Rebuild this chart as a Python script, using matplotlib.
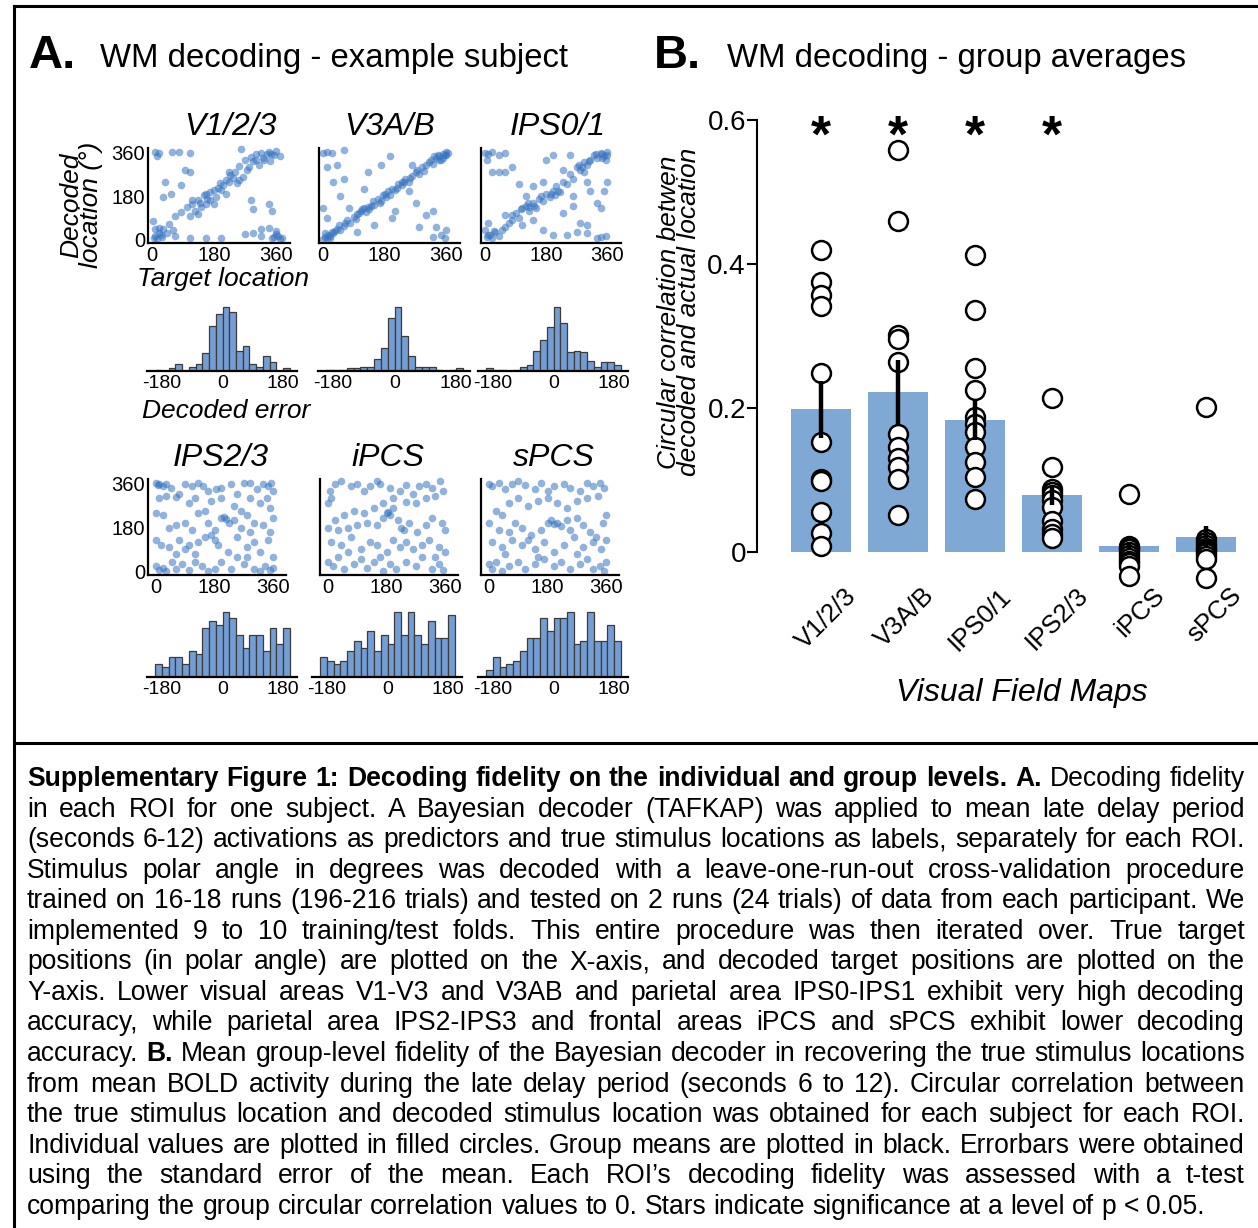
import numpy as np
import matplotlib
matplotlib.use('Agg')
import matplotlib.pyplot as plt
from matplotlib.transforms import ScaledTranslation

plt.rcParams['font.family'] = ['Liberation Sans', 'DejaVu Sans']

# ---------------- data: panel A, scatter (target, decoded) ----------------
v123_pts = [(9, 365), (20, 360), (14, 345), (57, 363), (79, 363), (111, 360), (258, 374), (301, 357),
            (315, 360), (332, 353), (346, 357), (360, 367), (371, 346), (287, 343), (321, 339), (269, 332),
            (252, 304), (241, 282), (227, 268), (213, 247), (196, 233), (179, 205), (167, 198), (151, 184),
            (134, 162), (117, 148), (100, 134), (83, 113), (66, 99), (49, 64), (32, 42), (20, 28), (9, 14),
            (224, 240), (201, 205), (185, 177), (168, 162), (156, 148), (179, 148), (142, 134), (124, 120),
            (111, 99), (252, 247), (264, 261), (275, 290), (292, 325), (309, 311), (326, 332), (343, 325),
            (37, 240), (54, 190), (32, 177), (83, 226), (111, 282), (117, 162), (94, 290), (134, 106),
            (156, 190), (224, 282), (247, 233), (287, 162), (292, 127), (338, 148), (349, 120), (338, 49),
            (360, 35), (366, 14), (377, 7), (349, 7), (315, 14), (292, 28), (269, 21), (201, 7), (156, 7),
            (111, 7), (66, 14), (9, 42), (3, 78), (20, 49), (43, 28), (315, 42), (360, 21), (5, 5),
            (15, 0), (30, 10), (190, 215), (205, 225), (215, 190), (235, 255), (160, 170), (140, 150),
            (300, 330), (280, 300), (355, 350), (340, 365), (370, 0), (355, 10), (25, 20), (60, 40)]

v3ab_pts = [(5, 10), (10, 5), (15, 20), (20, 15), (25, 30), (30, 25), (40, 45), (50, 40), (60, 55), (70, 80),
            (80, 70), (90, 95), (100, 105), (110, 120), (115, 125), (120, 130), (125, 115), (130, 135),
            (140, 140), (150, 145), (160, 170), (170, 160), (180, 190), (185, 175), (190, 200), (200, 210),
            (210, 205), (220, 230), (230, 225), (240, 250), (250, 240), (260, 265), (270, 280), (280, 270),
            (290, 300), (300, 310), (310, 320), (320, 315), (330, 340), (340, 345), (345, 330), (350, 355),
            (355, 350), (360, 365), (0, 360), (10, 365), (25, 360), (60, 370), (130, 280), (170, 310),
            (195, 345), (30, 240), (10, 300), (50, 180), (10, 90), (150, 60), (100, 30), (75, 130), (200, 90),
            (210, 120), (230, 240), (260, 310), (270, 150), (300, 100), (320, 120), (330, 50), (345, 20),
            (355, 5), (320, 10), (280, 50), (250, 200), (120, 210), (60, 250), (40, 310), (360, 40), (0, 130),
            (0, 0), (5, 25), (20, 5), (35, 35), (45, 60), (65, 70), (95, 85), (105, 110), (135, 125),
            (145, 160), (165, 150), (175, 185), (195, 185), (215, 215), (235, 240), (255, 255), (275, 290),
            (295, 285), (315, 330), (335, 350), (350, 340), (365, 360), (360, 350), (340, 330), (325, 345)]

ips01_pts = [(5, 10), (15, 20), (20, 5), (30, 30), (40, 15), (50, 40), (60, 50), (70, 70), (80, 100), (90, 110),
             (100, 90), (110, 130), (120, 140), (130, 120), (140, 150), (150, 130), (160, 170), (170, 160),
             (180, 190), (190, 175), (200, 200), (210, 220), (220, 195), (230, 240), (240, 230), (250, 270),
             (260, 250), (270, 300), (280, 290), (290, 320), (300, 310), (310, 330), (320, 350), (330, 340),
             (340, 360), (350, 345), (360, 365), (355, 330), (345, 355), (0, 360), (10, 355), (20, 365),
             (40, 350), (60, 360), (5, 330), (20, 280), (40, 280), (60, 280), (80, 300), (100, 230), (120, 180),
             (140, 220), (170, 240), (180, 330), (200, 350), (230, 290), (250, 350), (260, 180), (290, 280),
             (300, 240), (310, 200), (330, 150), (350, 200), (360, 240), (340, 130), (355, 15), (340, 10),
             (330, 5), (300, 25), (270, 30), (240, 20), (200, 20), (170, 40), (140, 80), (110, 60), (80, 80),
             (60, 100), (10, 70), (0, 40), (230, 110), (260, 140), (280, 70), (300, 60), (10, 20), (25, 35),
             (130, 135), (145, 140), (165, 180), (195, 190), (205, 185), (215, 200), (275, 310), (305, 325),
             (325, 355), (345, 340), (360, 350), (285, 300), (125, 150), (105, 125)]

ips23_pts = [(0, 365), (5, 355), (10, 360), (20, 350), (30, 360), (45, 345), (70, 320), (90, 360), (110, 350),
             (130, 365), (145, 350), (160, 330), (185, 340), (200, 345), (230, 360), (250, 320), (270, 365),
             (290, 365), (310, 340), (330, 360), (345, 350), (360, 330), (355, 365), (10, 300), (30, 310),
             (60, 305), (100, 280), (120, 300), (150, 250), (170, 290), (200, 300), (240, 270), (260, 250),
             (290, 300), (320, 280), (350, 260), (340, 300), (280, 230), (0, 240), (20, 230), (40, 180),
             (60, 190), (90, 200), (110, 170), (130, 240), (160, 200), (180, 170), (200, 220), (210, 225),
             (215, 215), (225, 200), (240, 210), (260, 180), (290, 160), (300, 200), (330, 190), (360, 220),
             (350, 160), (0, 130), (15, 110), (40, 100), (70, 130), (90, 90), (100, 110), (130, 120),
             (150, 140), (170, 150), (180, 130), (190, 110), (220, 80), (250, 140), (280, 100), (300, 120),
             (320, 80), (345, 130), (360, 60), (0, 20), (10, 5), (20, 15), (30, 0), (50, 40), (60, 10),
             (80, 30), (100, 5), (120, 40), (140, 20), (160, 0), (180, 10), (200, 40), (230, 10), (250, 60),
             (270, 30), (300, 10), (320, 0), (335, 20), (350, 5), (360, 15), (120, 70), (60, 70), (280, 60)]

ipcs_pts = [(5, 330), (0, 280), (10, 300), (20, 360), (40, 370), (70, 350), (90, 360), (110, 330), (130, 350),
            (150, 370), (160, 360), (190, 345), (220, 330), (240, 355), (260, 320), (280, 350), (300, 360),
            (320, 345), (345, 370), (355, 330), (330, 310), (300, 300), (270, 280), (240, 285), (200, 300),
            (170, 280), (140, 260), (110, 240), (80, 250), (50, 230), (20, 210), (0, 180), (30, 170),
            (60, 180), (90, 190), (120, 200), (150, 190), (170, 220), (180, 240), (185, 245), (190, 230),
            (200, 260), (215, 210), (225, 180), (235, 170), (250, 200), (275, 160), (300, 190), (320, 220),
            (350, 200), (360, 170), (10, 120), (40, 110), (70, 140), (100, 90), (130, 120), (150, 110),
            (180, 80), (200, 130), (220, 100), (240, 120), (260, 90), (290, 110), (310, 130), (340, 100),
            (360, 80), (0, 40), (15, 20), (30, 60), (50, 10), (80, 30), (100, 50), (120, 15), (140, 40),
            (170, 0), (190, 30), (210, 10), (240, 40), (270, 20), (290, 60), (320, 10), (340, 30), (355, 5),
            (60, 80), (160, 60), (330, 60)]

spcs_pts = [(0, 360), (10, 350), (30, 365), (50, 340), (70, 360), (90, 370), (110, 355), (140, 340), (160, 365),
            (180, 330), (200, 350), (230, 360), (250, 345), (280, 330), (300, 365), (320, 350), (340, 365),
            (355, 345), (335, 310), (300, 300), (270, 290), (240, 260), (210, 280), (180, 300), (150, 290),
            (120, 270), (90, 300), (60, 280), (20, 250), (40, 230), (0, 200), (30, 170), (60, 160), (80, 200),
            (100, 180), (130, 150), (160, 170), (180, 200), (190, 210), (200, 195), (210, 200), (220, 185),
            (240, 210), (250, 170), (270, 220), (290, 190), (310, 160), (330, 140), (350, 200), (360, 230),
            (10, 120), (40, 100), (70, 130), (100, 110), (120, 130), (140, 90), (170, 120), (200, 80),
            (230, 110), (260, 140), (290, 100), (320, 120), (345, 90), (360, 130), (0, 30), (10, 10), (20, 40),
            (40, 0), (60, 20), (90, 40), (110, 10), (140, 30), (170, 50), (200, 20), (220, 40), (250, 10),
            (280, 30), (300, 50), (320, 10), (340, 20), (355, 0), (360, 40), (50, 70), (150, 60), (270, 70)]

# ---------------- data: panel A, decoding-error histograms (20 bins, -200..200) ----------------
v123_err = [1, 0, 2, 5, 0, 3, 5, 12, 31, 39, 44, 40, 14, 17, 5, 3, 10, 6, 0, 2]
v3ab_err = [1, 1, 1, 2, 2, 3, 3, 8, 16, 36, 44, 24, 10, 3, 3, 3, 1, 0, 1, 2]
ips01_err = [2, 1, 1, 0, 1, 3, 4, 14, 21, 30, 44, 33, 13, 14, 13, 7, 3, 6, 6, 4]
ips23_err = [4, 3, 6, 6, 4, 8, 7, 15, 17, 16, 20, 18, 13, 9, 13, 13, 8, 15, 10, 15]
ipcs_err = [6, 5, 4, 5, 8, 11, 9, 14, 8, 13, 10, 20, 13, 20, 13, 10, 17, 12, 12, 19]
spcs_err = [2, 6, 3, 4, 5, 8, 12, 12, 18, 14, 18, 18, 20, 10, 11, 20, 11, 11, 16, 11]

roi_names = ['V1/2/3', 'V3A/B', 'IPS0/1', 'IPS2/3', 'iPCS', 'sPCS']

# ---------------- data: panel B, group circular correlation ----------------
group_means = [0.198, 0.222, 0.184, 0.079, 0.008, 0.021]
group_sems = [0.040, 0.045, 0.028, 0.014, 0.005, 0.015]
subj_v123 = [0.420, 0.375, 0.357, 0.341, 0.248, 0.153, 0.102, 0.098, 0.056, 0.026, 0.009]
subj_v3ab = [0.558, 0.460, 0.301, 0.296, 0.264, 0.164, 0.146, 0.130, 0.118, 0.102, 0.051]
subj_ips01 = [0.413, 0.336, 0.255, 0.225, 0.188, 0.178, 0.167, 0.146, 0.125, 0.104, 0.073]
subj_ips23 = [0.214, 0.118, 0.088, 0.083, 0.079, 0.072, 0.063, 0.043, 0.032, 0.025, 0.020]
subj_ipcs = [0.081, 0.008, 0.006, 0.004, 0.000, -0.004, -0.008, -0.012, -0.016, -0.020, -0.034]
subj_spcs = [0.202, 0.018, 0.014, 0.010, 0.006, 0.004, 0.002, -0.002, -0.006, -0.010, -0.036]
significant = [True, True, True, True, False, False]

W, H = 1258, 1228
fig = plt.figure(figsize=(W / 100, H / 100), dpi=100)


def px_axes(x0, y0, x1, y1):
    return fig.add_axes([x0 / W, 1 - y1 / H, (x1 - x0) / W, (y1 - y0) / H])


def ftext(x, y, s, **kw):
    return fig.text(x / W, 1 - y / H, s, **kw)


scat_col = '#3674c2'
hist_col = '#739dd3'
bar_col = '#80a8d5'

# ---------------- frame lines ----------------
fig.add_artist(plt.Line2D([14 / W, 1], [1 - 6 / H, 1 - 6 / H], color='black', lw=2.2))
fig.add_artist(plt.Line2D([14 / W, 14 / W], [0, 1 - 6 / H], color='black', lw=2.2))
fig.add_artist(plt.Line2D([14 / W, 1], [1 - 743 / H, 1 - 743 / H], color='black', lw=2.2))

# ---------------- headings ----------------
ftext(29, 68, 'A.', fontsize=34, fontweight='bold')
ftext(100, 67, 'WM decoding - example subject', fontsize=23.7)
ftext(654, 68, 'B.', fontsize=34, fontweight='bold')
ftext(727, 67, 'WM decoding - group averages', fontsize=23.7)

# ---------------- panel A ----------------
scat_sets = [v123_pts, v3ab_pts, ips01_pts, ips23_pts, ipcs_pts, spcs_pts]
err_sets = [v123_err, v3ab_err, ips01_err, ips23_err, ipcs_err, spcs_err]
scat_boxes = [(148, 148, 290, 243), (319, 148, 460, 243), (481, 148, 621, 243),
              (148, 479, 286, 575), (320, 479, 458, 575), (481, 479, 619, 575)]
hist_boxes = [(147, 304, 297, 371), (318, 304, 470, 371), (478, 304, 628, 371),
              (147, 609, 297, 677), (312, 609, 462, 677), (478, 609, 628, 677)]
title_pos = [(230, 135), (390, 135), (558, 135), (221, 466), (388, 466), (554, 466)]
edges = np.linspace(-200, 200, 21)
centers = (edges[:-1] + edges[1:]) / 2

for k in range(6):
    pts = np.array(scat_sets[k])
    ax = px_axes(*scat_boxes[k])
    ax.scatter(pts[:, 0], pts[:, 1], s=30, color=scat_col, alpha=0.55, linewidths=0, clip_on=False)
    ax.set_xlim(-12 if k < 3 else -25, 400)
    ax.set_ylim(-15, 380)
    for s in ['top', 'right']:
        ax.spines[s].set_visible(False)
    for s in ['left', 'bottom']:
        ax.spines[s].set_linewidth(1.6)
    ax.set_xticks([0, 180, 360])
    ax.set_xticklabels(['0', '180', '360'], fontsize=14.5)
    if k in (0, 3):
        ax.set_yticks([0, 180, 360])
        ax.set_yticklabels(['0', '180', '360'], fontsize=14.5)
    else:
        ax.set_yticks([])
    ax.tick_params(length=0, pad=2)
    ax.patch.set_visible(False)
    ftext(title_pos[k][0], title_pos[k][1], roi_names[k], fontsize=23, style='italic', ha='center')

    hx = px_axes(*hist_boxes[k])
    hx.bar(centers, err_sets[k], width=20, color=hist_col, edgecolor='#3c3c3c', linewidth=0.9)
    hx.set_xlim(-224, 221)
    hx.set_ylim(0, max(err_sets[k]) * 1.04)
    for s in ['top', 'right', 'left']:
        hx.spines[s].set_visible(False)
    hx.spines['bottom'].set_linewidth(1.6)
    hx.set_yticks([])
    hx.set_xticks([-180, 0, 180])
    hx.set_xticklabels(['-180', '0', '180'], fontsize=14)
    hx.tick_params(length=0, pad=3)
    hx.patch.set_visible(False)

ftext(81, 205, 'Decoded\nlocation (°)', fontsize=19, style='italic', rotation=90,
      ha='center', va='center', linespacing=0.8)
ftext(223, 279, 'Target location', fontsize=19, style='italic', ha='center', va='center')
ftext(226, 411, 'Decoded error', fontsize=19, style='italic', ha='center', va='center')

# ---------------- panel B ----------------
bx = px_axes(757, 100, 1258, 600)
subj_sets = [subj_v123, subj_v3ab, subj_ips01, subj_ips23, subj_ipcs, subj_spcs]
xpos = np.arange(len(roi_names))
bx.bar(xpos, group_means, width=0.77, color=bar_col, zorder=1)
for i, vals in enumerate(subj_sets):
    bx.scatter(np.full(len(vals), xpos[i]), vals, s=185, facecolor='white', edgecolor='black',
               linewidths=1.8, zorder=3, clip_on=False)
bx.errorbar(xpos, group_means, yerr=group_sems, fmt='none', ecolor='black', elinewidth=3.2,
            capsize=0, zorder=4)
for i, sig in enumerate(significant):
    if sig:
        bx.text(xpos[i], 0.556, '*', fontsize=37, fontweight='bold', ha='center', va='baseline')
bx.set_xlim(-0.831, 5.675)
bx.set_ylim(-0.0667, 0.6278)
for s in ['top', 'right', 'bottom']:
    bx.spines[s].set_visible(False)
bx.spines['left'].set_bounds(0, 0.6)
bx.spines['left'].set_linewidth(1.5)
bx.set_xticks([])
bx.set_yticks([0, 0.2, 0.4, 0.6])
bx.set_yticklabels(['0', '0.2', '0.4', '0.6'], fontsize=20)
bx.tick_params(axis='y', direction='out', length=7, width=1.5, pad=1)
bx.patch.set_visible(False)
shift = ScaledTranslation(0.32, 0, fig.dpi_scale_trans)
for i, name in enumerate(roi_names):
    bx.text(xpos[i], -0.0556, name, fontsize=18.5, rotation=45, ha='right', va='center',
            rotation_mode='anchor', transform=bx.transData + shift, clip_on=False)

ftext(1022, 693, 'Visual Field Maps', fontsize=23, style='italic', ha='center', va='center')
ftext(679, 312, 'Circular correlation betwen\ndecoded and actual location', fontsize=19,
      style='italic', rotation=90, ha='center', va='center', linespacing=0.8)

# ---------------- caption (justified) ----------------
cap_lines = [
    [('Supplementary Figure 1: Decoding fidelity on the individual and group levels. A.', 'bold'),
     ('Decoding fidelity', 'normal')],
    [('in each ROI for one subject. A Bayesian decoder (TAFKAP) was applied to mean late delay period', 'normal')],
    [('(seconds 6-12) activations as predictors and true stimulus locations as labels, separately for each ROI.', 'normal')],
    [('Stimulus polar angle in degrees was decoded with a leave-one-run-out cross-validation procedure', 'normal')],
    [('trained on 16-18 runs (196-216 trials) and tested on 2 runs (24 trials) of data from each participant. We', 'normal')],
    [('implemented 9 to 10 training/test folds. This entire procedure was then iterated over. True target', 'normal')],
    [('positions (in polar angle) are plotted on the X-axis, and decoded target positions are plotted on the', 'normal')],
    [('Y-axis. Lower visual areas V1-V3 and V3AB and parietal area IPS0-IPS1 exhibit very high decoding', 'normal')],
    [('accuracy, while parietal area IPS2-IPS3 and frontal areas iPCS and sPCS exhibit lower decoding', 'normal')],
    [('accuracy.', 'normal'), ('B.', 'bold'),
     ('Mean group-level fidelity of the Bayesian decoder in recovering the true stimulus locations', 'normal')],
    [('from mean BOLD activity during the late delay period (seconds 6 to 12). Circular correlation between', 'normal')],
    [('the true stimulus location and decoded stimulus location was obtained for each subject for each ROI.', 'normal')],
    [('Individual values are plotted in filled circles. Group means are plotted in black. Errorbars were obtained', 'normal')],
    [('using the standard error of the mean. Each ROI\u2019s decoding fidelity was assessed with a t-test', 'normal')],
    [('comparing the group circular correlation values to 0. Stars indicate significance at a level of p < 0.05.', 'normal')],
]
cap_size = 19.1
x_left, x_right = 27, 1245
renderer = fig.canvas.get_renderer()
space_t = ftext(0, 0, 'a a', fontsize=cap_size)
nospace_t = ftext(0, 0, 'aa', fontsize=cap_size)
space_w = (space_t.get_window_extent(renderer).width - nospace_t.get_window_extent(renderer).width)
space_t.remove()
nospace_t.remove()

for li, line in enumerate(cap_lines):
    yb = 786 + 30.55 * li
    words = []
    for chunk, wt in line:
        for w in chunk.split(' '):
            words.append((w, wt))
    texts = [ftext(0, yb, w, fontsize=cap_size, fontweight=wt, va='baseline') for w, wt in words]
    widths = [t.get_window_extent(renderer).width for t in texts]
    if li == len(cap_lines) - 1:
        gap = space_w
    else:
        gap = max((x_right - x_left - sum(widths)) / (len(words) - 1), 0.6 * space_w)
    x = x_left
    for t, w in zip(texts, widths):
        t.set_x(x / W)
        x += w + gap

fig.savefig('out.png', dpi=100)
